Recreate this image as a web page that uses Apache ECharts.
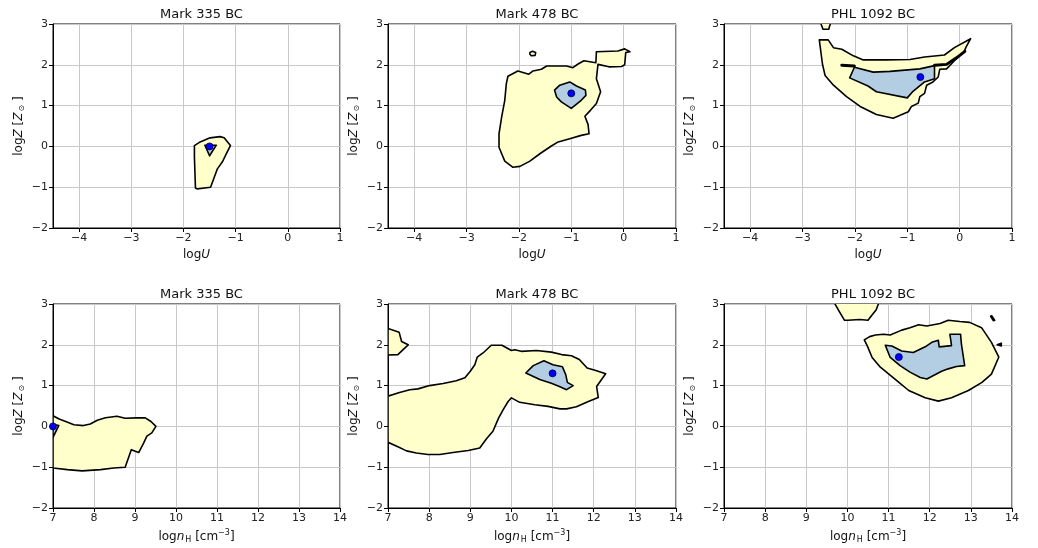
<!DOCTYPE html>
<html>
<head>
<meta charset="utf-8">
<script src="https://cdn.jsdelivr.net/npm/echarts@6/dist/echarts.min.js"></script>
<style>
  html, body { margin: 0; padding: 0; background: #fff; }
  #chart { width: 1038px; height: 548px; }
</style>
</head>
<body>
<div id="chart"></div>
<script>
const titles = ['Mark 335 BC', 'Mark 478 BC', 'PHL 1092 BC']
const xTicksU = [-4, -3, -2, -1, 0, 1]
const xTicksN = [7, 8, 9, 10, 11, 12, 13, 14]
const yTicks = [-2, -1, 0, 1, 2, 3]

// Mark 335, logU
const m335U_yellow = [[-1.79, 0.02], [-1.68, 0.11], [-1.49, 0.21], [-1.30, 0.24], [-1.22, 0.21], [-1.10, 0.02], [-1.17, -0.16], [-1.25, -0.37], [-1.35, -0.55], [-1.39, -0.69], [-1.48, -1.0], [-1.74, -1.04], [-1.77, -1.02], [-1.79, -0.26]]
const m335U_blue = [[-1.59, 0.03], [-1.37, 0.03], [-1.50, -0.23]]
const m335U_best = [-1.5, 0]

// Mark 478, logU
const m478U_yellow = [[-2.21, 1.72], [-2.02, 1.85], [-1.81, 1.77], [-1.73, 1.85], [-1.57, 1.89], [-1.47, 1.97], [-1.09, 1.97], [-0.97, 1.93], [-0.87, 2.02], [-0.76, 2.10], [-0.53, 2.05], [-0.52, 2.32], [-0.11, 2.34], [0.02, 2.39], [0.12, 2.32], [0.04, 2.30], [0.02, 2.0], [-0.04, 1.96], [-0.28, 1.95], [-0.49, 2.01], [-0.52, 1.66], [-0.44, 1.34], [-0.52, 1.05], [-0.63, 0.89], [-0.74, 0.74], [-0.68, 0.54], [-0.66, 0.31], [-0.81, 0.27], [-1.03, 0.19], [-1.25, 0.11], [-1.38, 0.01], [-1.60, -0.18], [-1.79, -0.36], [-1.98, -0.49], [-2.12, -0.51], [-2.27, -0.36], [-2.38, -0.02], [-2.38, 0.31], [-2.33, 0.72], [-2.27, 1.13], [-2.24, 1.54]]
const m478U_island = [[-1.79, 2.30], [-1.74, 2.33], [-1.68, 2.30], [-1.69, 2.23], [-1.76, 2.22], [-1.79, 2.26]]
const m478U_blue = [[-1.32, 1.38], [-1.22, 1.50], [-1.03, 1.58], [-0.90, 1.48], [-0.73, 1.38], [-0.72, 1.25], [-0.81, 1.13], [-1.0, 0.93], [-1.19, 1.09], [-1.28, 1.21]]
const m478U_best = [-1.0, 1.3]

// PHL 1092, logU
const phlU_top = [[-2.66, 3.05], [-2.61, 2.87], [-2.50, 2.87], [-2.46, 3.05]]
const phlU_yellow = [[-2.68, 2.61], [-2.51, 2.61], [-2.41, 2.42], [-2.25, 2.38], [-2.03, 2.22], [-1.84, 2.12], [-1.40, 2.12], [-0.95, 2.13], [-0.67, 2.19], [-0.29, 2.24], [-0.10, 2.42], [0.21, 2.64], [0.13, 2.45], [0.08, 2.31], [-0.10, 2.10], [-0.25, 1.90], [-0.38, 1.89], [-0.41, 1.70], [-0.51, 1.58], [-0.63, 1.50], [-0.67, 1.30], [-0.76, 1.22], [-0.79, 1.06], [-0.92, 0.98], [-0.98, 0.85], [-1.27, 0.69], [-1.59, 0.78], [-1.90, 0.98], [-2.16, 1.22], [-2.41, 1.50], [-2.57, 1.74], [-2.62, 2.02]]
const phlU_blue = [[-2.01, 1.94], [-2.10, 1.68], [-1.75, 1.48], [-1.59, 1.34], [-1.0, 1.19], [-0.89, 1.35], [-0.67, 1.58], [-0.48, 1.66], [-0.48, 1.98], [-0.76, 1.90], [-1.33, 1.84], [-1.65, 1.82]]
const phlU_lineA = [[-2.25, 1.99], [-2.01, 1.97]]
const phlU_lineB = [[-0.48, 1.99], [-0.25, 2.01], [-0.06, 2.17], [0.10, 2.33]]
const phlU_best = [-0.75, 1.7]

// Mark 335, log nH
const m335N_yellow = [[7.0, 0.26], [7.15, 0.18], [7.31, 0.12], [7.51, 0.04], [7.74, 0.02], [7.91, 0.06], [8.08, 0.15], [8.28, 0.21], [8.56, 0.25], [8.76, 0.20], [9.05, 0.21], [9.25, 0.21], [9.39, 0.12], [9.51, 0.0], [9.41, -0.16], [9.29, -0.24], [9.21, -0.41], [9.09, -0.64], [8.91, -0.57], [8.76, -1.0], [8.48, -1.02], [8.16, -1.06], [7.71, -1.09], [7.35, -1.06], [7.0, -1.02]]
const m335N_blue = [[7.0, 0.05], [7.14, 0.02], [7.0, -0.27]]
const m335N_best = [7.0, 0]

// Mark 478, log nH
const m478N_corner = [[7.0, 2.40], [7.27, 2.31], [7.33, 2.08], [7.49, 2.0], [7.24, 1.76], [7.0, 1.75]]
const m478N_yellow = [[7.0, 0.74], [7.28, 0.83], [7.53, 0.90], [7.73, 0.92], [8.01, 1.0], [8.34, 1.05], [8.66, 1.12], [8.87, 1.19], [9.0, 1.35], [9.11, 1.51], [9.17, 1.70], [9.31, 1.80], [9.51, 1.99], [9.77, 1.99], [10.0, 1.86], [10.08, 1.88], [10.24, 1.84], [10.61, 1.86], [10.97, 1.82], [11.22, 1.76], [11.46, 1.73], [11.65, 1.64], [11.84, 1.43], [12.05, 1.37], [12.29, 1.29], [12.07, 0.98], [12.11, 0.71], [11.87, 0.61], [11.58, 0.48], [11.34, 0.43], [11.18, 0.43], [10.89, 0.49], [10.57, 0.53], [10.20, 0.59], [10.0, 0.70], [9.92, 0.61], [9.80, 0.41], [9.69, 0.21], [9.55, -0.12], [9.39, -0.31], [9.23, -0.53], [8.95, -0.59], [8.58, -0.64], [8.26, -0.69], [7.97, -0.69], [7.69, -0.65], [7.45, -0.60], [7.24, -0.50], [7.0, -0.39]]
const m478N_blue = [[10.35, 1.31], [10.53, 1.49], [10.79, 1.61], [11.01, 1.51], [11.24, 1.46], [11.32, 1.27], [11.36, 1.08], [11.50, 1.0], [11.34, 0.90], [11.18, 0.97], [10.97, 1.06], [10.69, 1.15]]
const m478N_best = [11.0, 1.3]

// PHL 1092, log nH
const phlN_top = [[9.67, 3.05], [9.80, 2.82], [9.93, 2.60], [10.01, 2.60], [10.30, 2.62], [10.50, 2.60], [10.56, 2.68], [10.70, 2.86], [10.77, 3.05]]
const phlN_yellow = [[10.41, 2.12], [10.54, 2.20], [10.68, 2.24], [10.88, 2.26], [11.04, 2.24], [11.32, 2.36], [11.52, 2.42], [11.73, 2.49], [11.93, 2.46], [12.25, 2.52], [12.45, 2.60], [12.73, 2.57], [12.97, 2.55], [13.26, 2.42], [13.50, 2.06], [13.68, 1.70], [13.50, 1.28], [13.27, 1.08], [12.94, 0.88], [12.53, 0.70], [12.21, 0.62], [11.89, 0.70], [11.49, 0.88], [11.20, 1.12], [10.80, 1.45], [10.60, 1.69], [10.48, 1.98]]
const phlN_blue = [[10.92, 1.99], [11.08, 1.97], [11.32, 1.85], [11.60, 1.81], [11.89, 1.95], [12.05, 2.06], [12.21, 2.11], [12.23, 1.95], [12.53, 1.98], [12.49, 2.26], [12.75, 2.26], [12.77, 2.02], [12.85, 1.49], [12.65, 1.47], [12.45, 1.41], [12.29, 1.35], [11.93, 1.16], [11.77, 1.20], [11.52, 1.33], [11.28, 1.49], [11.04, 1.69]]
const phlN_speckA = [[13.48, 2.70], [13.51, 2.71], [13.58, 2.60], [13.55, 2.59]]
const phlN_speckB = [[13.64, 2.0], [13.74, 2.04], [13.74, 1.97]]
const phlN_best = [11.25, 1.7]

const YELLOW = '#ffffcc'
const BLUE = '#b3cde3'

const cols = [{ left: 53, width: 287 }, { left: 388, width: 288 }, { left: 724, width: 288 }]
const rows = [{ top: 24, height: 204 }, { top: 304, height: 204 }]

const panels = [
  { polys: [[m335U_yellow, YELLOW], [m335U_blue, BLUE]], lines: [], best: m335U_best },
  { polys: [[m478U_yellow, YELLOW], [m478U_island, YELLOW], [m478U_blue, BLUE]], lines: [], best: m478U_best },
  { polys: [[phlU_top, YELLOW], [phlU_yellow, YELLOW], [phlU_blue, BLUE]], lines: [phlU_lineA, phlU_lineB], best: phlU_best },
  { polys: [[m335N_yellow, YELLOW], [m335N_blue, BLUE]], lines: [], best: m335N_best },
  { polys: [[m478N_corner, YELLOW], [m478N_yellow, YELLOW], [m478N_blue, BLUE]], lines: [], best: m478N_best },
  { polys: [[phlN_top, YELLOW], [phlN_yellow, YELLOW], [phlN_blue, BLUE], [phlN_speckA, '#000'], [phlN_speckB, '#000']], lines: [], best: phlN_best }
]

const FONT = 'DejaVu Sans'
const minus = v => String(v).replace('-', '\u2212')
const nameRich = {
  n: { fontFamily: FONT, fontSize: 12, color: '#111' },
  i: { fontFamily: FONT, fontSize: 12, fontStyle: 'italic', color: '#111' },
  s: { fontFamily: FONT, fontSize: 8, color: '#111', padding: [7, 0, 0, 1] },
  p: { fontFamily: FONT, fontSize: 8, color: '#111', padding: [0, 0, 7, 0] }
}

const grids = [], xAxes = [], yAxes = [], series = [], titleList = []

panels.forEach((p, k) => {
  const r = Math.floor(k / 3), c = k % 3
  const isU = r === 0
  const ticks = isU ? xTicksU : xTicksN
  grids.push({
    left: cols[c].left, width: cols[c].width, top: rows[r].top, height: rows[r].height,
    show: true, borderColor: '#000', borderWidth: 1, backgroundColor: 'transparent'
  })
  titleList.push({
    text: titles[c], left: cols[c].left + cols[c].width / 2, top: rows[r].top - 21, textAlign: 'center',
    textStyle: { fontFamily: FONT, fontSize: 13, fontWeight: 'normal', color: '#111' }
  })
  xAxes.push({
    gridIndex: k, type: 'value', min: isU ? -4.5 : 7, max: isU ? 1 : 14,
    name: isU ? '{n|log}{i|U}' : '{n|log}{i|n}{s|H}{n| [cm}{p|\u22123}{n|]}',
    nameLocation: 'middle', nameGap: 21,
    nameTextStyle: { rich: nameRich },
    axisLine: { show: true, onZero: false, lineStyle: { color: '#000' } },
    axisTick: { show: true, length: 4, customValues: ticks, lineStyle: { color: '#000' } },
    axisLabel: { customValues: ticks, formatter: minus, fontFamily: FONT, fontSize: 11, color: '#222', margin: 5 },
    splitLine: { show: true, lineStyle: { color: '#c8c8c8', width: 1 } }
  })
  yAxes.push({
    gridIndex: k, type: 'value', min: -2, max: 3, interval: 1,
    name: '{n|log}{i|Z}{n| [}{i|Z}{s|\u2299}{n| ]}',
    nameLocation: 'middle', nameGap: 27, nameRotate: 90,
    nameTextStyle: { rich: nameRich },
    axisLine: { show: true, onZero: false, lineStyle: { color: '#000' } },
    axisTick: { show: true, length: 4, lineStyle: { color: '#000' } },
    axisLabel: { formatter: minus, fontFamily: FONT, fontSize: 11, color: '#222', margin: 5 },
    splitLine: { show: true, lineStyle: { color: '#c8c8c8', width: 1 } }
  })
  p.polys.forEach(([pts, fill]) => {
    series.push({
      type: 'custom', xAxisIndex: k, yAxisIndex: k, clip: true, silent: true,
      data: pts,
      renderItem: (params, api) => {
        if (params.dataIndex !== 0) return null
        return {
          type: 'polygon',
          shape: { points: pts.map(q => api.coord(q)) },
          style: { fill: fill, stroke: '#000', lineWidth: 1.6, lineJoin: 'round' }
        }
      }
    })
  })
  p.lines.forEach(pts => {
    series.push({
      type: 'custom', xAxisIndex: k, yAxisIndex: k, clip: true, silent: true,
      data: pts,
      renderItem: (params, api) => {
        if (params.dataIndex !== 0) return null
        return {
          type: 'polyline',
          shape: { points: pts.map(q => api.coord(q)) },
          style: { fill: null, stroke: '#000', lineWidth: 3, lineCap: 'round' }
        }
      }
    })
  })
  series.push({
    type: 'scatter', xAxisIndex: k, yAxisIndex: k, silent: true, clip: true,
    symbolSize: 7, data: [p.best],
    itemStyle: { color: '#0000ff', borderColor: '#00003a', borderWidth: 0.8, opacity: 1 },
    z: 5
  })
})

const chart = echarts.init(document.getElementById('chart'), null, { renderer: 'canvas' })
chart.setOption({
  animation: false,
  backgroundColor: '#fff',
  title: titleList,
  grid: grids,
  xAxis: xAxes,
  yAxis: yAxes,
  series: series
})
</script>
</body>
</html>
